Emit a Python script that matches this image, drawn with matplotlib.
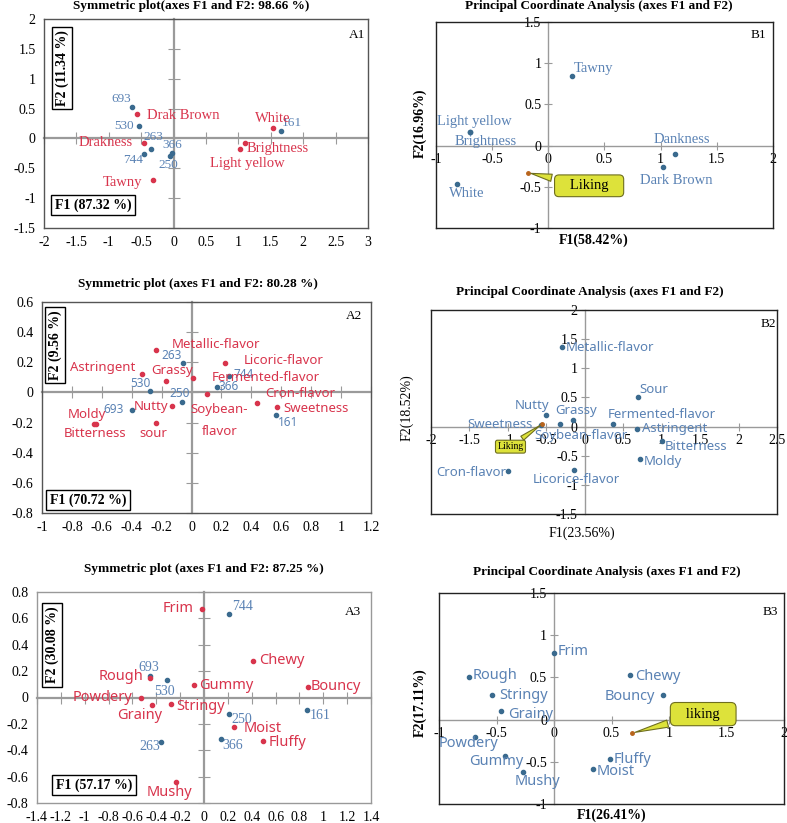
import matplotlib
matplotlib.use("Agg")
import matplotlib.pyplot as plt

plt.rcParams["font.family"] = "Liberation Serif"

RED = "#d8344c"
BLUE_TXT = "#5a82b4"
BLUE_PT = "#3a6a8e"
GRAY = "#9a9a9a"
SANS = "Noto Sans"

# ---------------- data ----------------
# A1 colour (CA)
a1_attr = ["Drak Brown", "Drakness", "Tawny", "White", "Brightness", "Light yellow"]
a1_attr_x = [-0.57, -0.46, -0.32, 1.53, 1.10, 1.03]
a1_attr_y = [0.41, -0.07, -0.70, 0.18, -0.07, -0.17]
a1_samp = ["693", "530", "263", "744", "366", "250", "161"]
a1_samp_x = [-0.64, -0.54, -0.35, -0.46, -0.03, -0.06, 1.65]
a1_samp_y = [0.53, 0.20, -0.18, -0.26, -0.24, -0.29, 0.13]

# B1 colour (PCoA)
b1_attr = ["Tawny", "Light yellow", "Brightness", "White", "Dankness", "Dark Brown"]
b1_x = [0.21, -0.70, -0.70, -0.81, 1.13, 1.02]
b1_y = [0.84, 0.17, 0.17, -0.465, -0.10, -0.255]
b1_liking = (-0.18, -0.33)

# A2 flavour (CA)
a2_attr = ["Metallic-flavor", "Astringent", "Grassy", "Licoric-flavor", "Fermented-flavor",
           "Soybean-\nflavor", "Cron-flavor", "Sweetness", "Nutty", "sour", "Moldy", "Bitterness"]
a2_attr_x = [-0.24, -0.33, -0.17, 0.225, 0.013, 0.10, 0.435, 0.57, -0.13, -0.24, -0.654, -0.64]
a2_attr_y = [0.28, 0.125, 0.077, 0.196, 0.097, -0.013, -0.07, -0.095, -0.088, -0.20, -0.207, -0.21]
a2_samp = ["263", "530", "250", "693", "744", "366", "161"]
a2_samp_x = [-0.054, -0.28, -0.065, -0.40, 0.25, 0.167, 0.565]
a2_samp_y = [0.194, 0.009, -0.066, -0.117, 0.108, 0.037, -0.15]

# B2 flavour (PCoA)
b2_attr = ["Metallic-flavor", "Sour", "Nutty", "Grassy", "Soybean-flavor", "Fermented-flavor",
           "Astringent", "Bitterness", "Moldy", "Cron-flavor", "Licorice-flavor", "Sweetness"]
b2_x = [-0.295, 0.69, -0.50, -0.15, -0.325, 0.373, 0.676, 1.01, 0.72, -1.0, -0.14, -0.57]
b2_y = [1.36, 0.51, 0.20, 0.12, 0.04, 0.046, -0.04, -0.25, -0.56, -0.77, -0.75, 0.03]
b2_liking = (-0.55, 0.05)

# A3 texture (CA)
a3_attr = ["Frim", "Chewy", "Gummy", "Bouncy", "Rough", "Powdery", "Grainy", "Stringy",
           "Moist", "Fluffy", "Mushy"]
a3_attr_x = [-0.02, 0.41, -0.087, 0.87, -0.45, -0.525, -0.44, -0.28, 0.254, 0.494, -0.235]
a3_attr_y = [0.67, 0.28, 0.092, 0.082, 0.15, 0.0, -0.06, -0.05, -0.226, -0.33, -0.64]
a3_samp = ["744", "693", "530", "161", "250", "366", "263"]
a3_samp_x = [0.212, -0.453, -0.31, 0.863, 0.212, 0.14, -0.364]
a3_samp_y = [0.63, 0.16, 0.13, -0.097, -0.125, -0.315, -0.337]

# B3 texture (PCoA)
b3_attr = ["Frim", "Rough", "Chewy", "Stringy", "Bouncy", "Grainy", "Powdery", "Gummy",
           "Mushy", "Fluffy", "Moist"]
b3_x = [0.0, -0.743, 0.657, -0.54, 0.95, -0.457, -0.69, -0.428, -0.266, 0.49, 0.336]
b3_y = [0.79, 0.51, 0.53, 0.29, 0.29, 0.10, -0.21, -0.43, -0.62, -0.47, -0.59]
b3_liking = (0.68, -0.16)

# label offsets (pixels) and alignment
a1_attr_off = [(10, -2, "left"), (-11, 0, "right"), (-11, -2, "right"), (0, 9, "center"),
               (2, -6, "left"), (7, -15, "center")]
a1_samp_off = [(-1, 8, "right"), (-5, 0, "right"), (-7, 12, "left"), (-1, -6, "right"),
               (-9, 8, "left"), (-1, -9, "center"), (1, 8, "left")]
b1_off = [(2, 8, "left"), (5, 10, "center"), (16, -10, "center"), (9, -10, "center"),
          (7, 14, "center"), (13, -14, "center")]
a2_attr_off = [(16, 6, "left"), (-7, 6, "right"), (6, 10, "center"), (19, 2, "left"),
               (18, 0, "left"), (13, -26, "center"), (9, 9, "left"), (7, -2, "left"),
               (-4, -1, "right"), (-2, -11, "center"), (-7, 9, "center"), (-1, -9, "center")]
a2_samp_off = [(-2, 8, "right"), (-9, 8, "center"), (-2, 9, "center"), (-8, 1, "right"),
               (5, 2, "left"), (2, 0, "left"), (2, -7, "left")]
b2_off = [(4, 0, "left"), (2, 7, "left"), (-14, 9, "center"), (3, 9, "center"),
          (21, -11, "center"), (-6, 9, "left"), (5, 0, "left"), (2, -5, "left"),
          (4, -2, "left"), (-2, -1, "right"), (2, -9, "center"), (-8, 0, "right")]
a3_attr_off = [(-8, 1, "right"), (6, 0, "left"), (6, 0, "left"), (3, 0, "left"),
               (-7, 1, "right"), (-9, 0, "right"), (-12, -10, "center"), (6, -2, "left"),
               (9, -1, "left"), (6, -1, "left"), (-6, -11, "center")]
a3_samp_off = [(3, 8, "left"), (-1, 9, "center"), (-3, -11, "center"), (3, -5, "left"),
               (2, -6, "left"), (2, -6, "left"), (0, -5, "right")]
b3_off = [(4, 1, "left"), (4, 1, "left"), (6, -2, "left"), (7, 0, "left"), (-8, -1, "right"),
          (7, -3, "left"), (-6, -6, "center"), (-8, -6, "center"), (14, -10, "center"),
          (3, 0, "left"), (4, -2, "left")]

W, H = 787, 823
fig = plt.figure(figsize=(W / 100, H / 100), dpi=100)


def fx(x):
    return x / W


def fy(y):
    return 1 - y / H


def fmt(v):
    return "%g" % v


def make_axes(l, r, t, b, xlim, ylim, xt, yt, style, frame):
    ax = fig.add_axes([fx(l), fy(b), fx(r - l), (b - t) / H])
    ax.set_xlim(xlim)
    ax.set_ylim(ylim)
    for s in ax.spines.values():
        s.set_color(frame)
        s.set_linewidth(1.0)
    locy = -ylim[0] / (ylim[1] - ylim[0])
    locx = -xlim[0] / (xlim[1] - xlim[0])
    sx = ax.secondary_xaxis(locy)
    sy = ax.secondary_yaxis(locx)
    sx.set_alignment("bottom")
    sy.set_alignment("left")
    sx.set_xticks(xt)
    sy.set_yticks(yt)
    lw = 1.6 if style == "A" else 1.0
    for sec in (sx, sy):
        for s in sec.spines.values():
            s.set_color(GRAY)
            s.set_linewidth(lw)
    if style == "A":
        ax.set_xticks(xt)
        ax.set_yticks(yt)
        ax.set_xticklabels([fmt(v) for v in xt])
        ax.set_yticklabels([fmt(v) for v in yt])
        ax.tick_params(length=0, labelsize=10, pad=6)
        sx.tick_params(direction="inout", length=8, width=0.8, color=GRAY, labelbottom=False)
        sy.tick_params(direction="inout", length=8, width=0.8, color=GRAY, labelleft=False)
    else:
        ax.set_xticks([])
        ax.set_yticks([])
        sx.set_xticklabels([fmt(v) for v in xt])
        sy.set_yticklabels([fmt(v) for v in yt])
        sx.tick_params(direction="inout", length=6, width=0.8, color=GRAY, labelsize=10, pad=2)
        sy.tick_params(direction="inout", length=6, width=0.8, color=GRAY, labelsize=10, pad=2)
    return ax


def plot_pts(ax, names, xs, ys, offs, pcol, tcol, fs, fam):
    ax.plot(xs, ys, "o", ms=3, color=pcol, zorder=3)
    for n, x, y, (dx, dy, ha) in zip(names, xs, ys, offs):
        ax.annotate(n, (x, y), xytext=(dx, dy), textcoords="offset pixels", ha=ha,
                    va="center", color=tcol, fontsize=fs, family=fam, linespacing=1.9)


def callout(ax, pt, label, off, fs, pad):
    ax.plot([pt[0]], [pt[1]], "o", ms=2.5, color="#b8641c", zorder=4)
    ax.annotate(label, pt, xytext=off, textcoords="offset pixels", ha="center", va="center",
                fontsize=fs, color="black",
                bbox=dict(boxstyle="round,pad=%s" % pad, fc="#dde23a", ec="#6e6e1e", lw=0.8),
                arrowprops=dict(arrowstyle="wedge,tail_width=0.5", fc="#dde23a", ec="#6e6e1e",
                                lw=0.8), zorder=5)


def title(x, y, s):
    fig.text(fx(x), fy(y), s, ha="center", va="center", fontsize=9.5, fontweight="bold")


def boxlabel(x, y, s, rot):
    fig.text(fx(x), fy(y), s, ha="center", va="center", fontsize=10, fontweight="bold",
             rotation=rot, bbox=dict(boxstyle="square,pad=0.25", fc="white", ec="black", lw=1))


def tag(x, y, s):
    fig.text(fx(x), fy(y), s, ha="center", va="center", fontsize=9.5)


# ---------------- A1 ----------------
xt = [-2, -1.5, -1, -0.5, 0, 0.5, 1, 1.5, 2, 2.5, 3]
yt = [-1.5, -1, -0.5, 0, 0.5, 1, 1.5, 2]
ax = make_axes(44, 368, 19, 228, (-2, 3), (-1.5, 2), xt, yt, "A", "#555555")
plot_pts(ax, a1_samp, a1_samp_x, a1_samp_y, a1_samp_off, BLUE_PT, BLUE_TXT, 9.5, "Liberation Serif")
plot_pts(ax, a1_attr, a1_attr_x, a1_attr_y, a1_attr_off, RED, RED, 10.5, "Liberation Serif")
title(191, 6, "Symmetric plot(axes F1 and F2: 98.66 %)")
boxlabel(62, 68, "F2 (11.34 %)", 90)
boxlabel(93, 205, "F1 (87.32 %)", 0)
tag(357, 35, "A1")

# ---------------- B1 ----------------
xt = [-1, -0.5, 0, 0.5, 1, 1.5, 2]
yt = [-1, -0.5, 0, 0.5, 1, 1.5]
ax = make_axes(436, 773, 22, 228, (-1, 2), (-1, 1.5), xt, yt, "B", "#222222")
plot_pts(ax, b1_attr, b1_x, b1_y, b1_off, BLUE_PT, BLUE_TXT, 10.5, "Liberation Serif")
callout(ax, b1_liking, "   Liking   ", (61, -13), 10.5, 0.3)
title(599, 6, "Principal Coordinate Analysis (axes F1 and F2)")
fig.text(fx(594), fy(240), "F1(58.42%)", ha="center", va="center", fontsize=10, fontweight="bold")
fig.text(fx(420), fy(123), "F2(16.96%)", ha="center", va="center", fontsize=10,
         fontweight="bold", rotation=90)
tag(758, 35, "B1")

# ---------------- A2 ----------------
xt = [-1, -0.8, -0.6, -0.4, -0.2, 0, 0.2, 0.4, 0.6, 0.8, 1, 1.2]
yt = [-0.8, -0.6, -0.4, -0.2, 0, 0.2, 0.4, 0.6]
ax = make_axes(42, 371, 302, 513, (-1, 1.2), (-0.8, 0.6), xt, yt, "A", "#555555")
plot_pts(ax, a2_samp, a2_samp_x, a2_samp_y, a2_samp_off, BLUE_PT, BLUE_TXT, 8.5, SANS)
plot_pts(ax, a2_attr, a2_attr_x, a2_attr_y, a2_attr_off, RED, RED, 9.5, SANS)
title(198, 284, "Symmetric plot (axes F1 and F2: 80.28 %)")
boxlabel(55, 345, "F2 (9.56 %)", 90)
boxlabel(88, 500, "F1 (70.72 %)", 0)
tag(354, 316, "A2")

# ---------------- B2 ----------------
xt = [-2, -1.5, -1, -0.5, 0, 0.5, 1, 1.5, 2, 2.5]
yt = [-1.5, -1, -0.5, 0, 0.5, 1, 1.5, 2]
ax = make_axes(431, 777, 310, 514, (-2, 2.5), (-1.5, 2), xt, yt, "B", "#222222")
plot_pts(ax, b2_attr, b2_x, b2_y, b2_off, BLUE_PT, BLUE_TXT, 9.5, SANS)
callout(ax, b2_liking, "Liking", (-32, -23), 7, 0.2)
title(590, 292, "Principal Coordinate Analysis (axes F1 and F2)")
fig.text(fx(582), fy(533), "F1(23.56%)", ha="center", va="center", fontsize=10)
fig.text(fx(407), fy(408), "F2(18.52%)", ha="center", va="center", fontsize=10, rotation=90)
tag(768, 324, "B2")

# ---------------- A3 ----------------
xt = [-1.4, -1.2, -1, -0.8, -0.6, -0.4, -0.2, 0, 0.2, 0.4, 0.6, 0.8, 1, 1.2, 1.4]
yt = [-0.8, -0.6, -0.4, -0.2, 0, 0.2, 0.4, 0.6, 0.8]
ax = make_axes(37, 371, 592, 803, (-1.4, 1.4), (-0.8, 0.8), xt, yt, "A", "#999999")
plot_pts(ax, a3_samp, a3_samp_x, a3_samp_y, a3_samp_off, BLUE_PT, BLUE_TXT, 10, "Liberation Serif")
plot_pts(ax, a3_attr, a3_attr_x, a3_attr_y, a3_attr_off, RED, RED, 10.5, SANS)
title(204, 569, "Symmetric plot (axes F1 and F2: 87.25 %)")
boxlabel(52, 645, "F2 (30.08 %)", 90)
boxlabel(94, 785, "F1 (57.17 %)", 0)
tag(353, 612, "A3")

# ---------------- B3 ----------------
xt = [-1, -0.5, 0, 0.5, 1, 1.5, 2]
yt = [-1, -0.5, 0, 0.5, 1, 1.5]
ax = make_axes(439, 784, 593, 804, (-1, 2), (-1, 1.5), xt, yt, "B", "#222222")
plot_pts(ax, b3_attr, b3_x, b3_y, b3_off, BLUE_PT, BLUE_TXT, 10.5, SANS)
callout(ax, b3_liking, "   liking   ", (71, 19), 10.5, 0.35)
title(607, 572, "Principal Coordinate Analysis (axes F1 and F2)")
fig.text(fx(612), fy(815), "F1(26.41%)", ha="center", va="center", fontsize=10, fontweight="bold")
fig.text(fx(420), fy(703), "F2(17.11%)", ha="center", va="center", fontsize=10,
         fontweight="bold", rotation=90)
tag(770, 612, "B3")

fig.savefig("out.png", dpi=100)
